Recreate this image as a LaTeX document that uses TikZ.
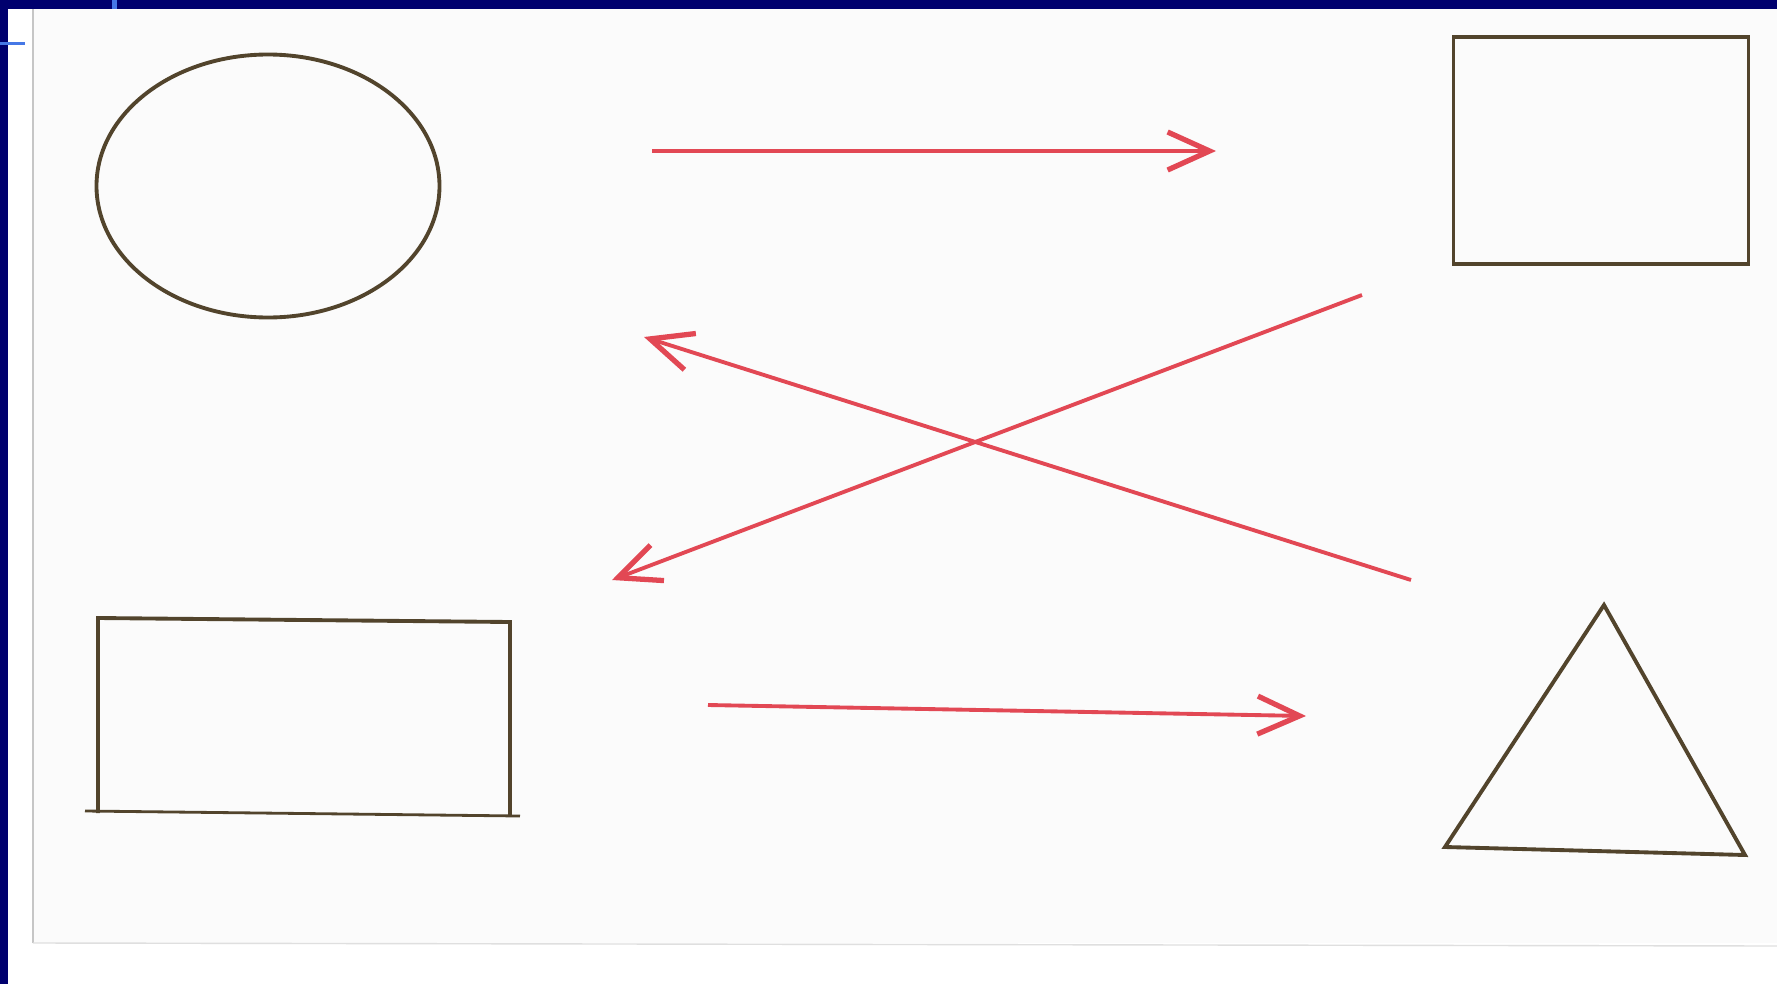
\documentclass[tikz,border=0pt]{standalone}
\usepackage{xcolor}
\usepackage{tikz}
\usetikzlibrary{arrows.meta,positioning,shapes.geometric}

\definecolor{penink}{RGB}{82,68,44}
\definecolor{redink}{RGB}{226,72,84}
\definecolor{slideblue}{RGB}{0,0,110}
\definecolor{lightblue}{RGB}{70,120,230}

\begin{document}
\begin{tikzpicture}[
  x=1cm, y=1cm,
  shapeline/.style={draw=penink, line width=1.1pt},
  arr/.style={draw=redink, line width=1.1pt,
    -{Straight Barb[length=4.2mm, width=3.8mm, line width=1.5pt]}},
]
\useasboundingbox (0,0) rectangle (17.77,-9.84);
% paper and slide frame
\fill[white] (0,0) rectangle (17.77,-9.84);
\fill[gray!3] (0.33,-0.09) rectangle (17.77,-9.43);
\draw[gray!45, line width=0.4pt] (0.33,-0.09) -- (0.33,-9.43);
\draw[gray!25, line width=0.4pt] (0.33,-9.43) -- (17.77,-9.46);
\fill[slideblue] (0,0) rectangle (17.77,-0.09);
\fill[slideblue] (0,0) rectangle (0.08,-9.84);
\fill[lightblue] (1.12,0) rectangle (1.17,-0.09);
\fill[lightblue] (0,-0.42) rectangle (0.25,-0.45);

% shapes
\node[shapeline, ellipse, minimum width=3.43cm, minimum height=2.63cm]
  (circ) at (2.68,-1.86) {};
\node[shapeline, rectangle, minimum width=2.95cm, minimum height=2.27cm]
  (sqr) at (16.01,-1.505) {};
\coordinate (rl) at (0.98,-6.18);
\coordinate (rr) at (5.10,-6.22);
\coordinate (rbl) at (0.98,-8.13);
\coordinate (rbr) at (5.10,-8.15);
\draw[shapeline] (rbl) -- (rl) -- (rr) -- (rbr);
\draw[shapeline, line width=0.8pt] (0.85,-8.11) -- (5.20,-8.16);
\coordinate (ta) at (16.04,-6.05);
\coordinate (tl) at (14.45,-8.47);
\coordinate (tr) at (17.45,-8.55);
\draw[shapeline] (ta) -- (tr) -- (tl) -- cycle;

% arrows
\coordinate (a1s) at (6.52,-1.51);
\coordinate (a1e) at (12.16,-1.51);
\coordinate (a2s) at (7.08,-7.05);
\coordinate (a2e) at (13.06,-7.16);
\coordinate (x1s) at (14.11,-5.80);
\coordinate (x1e) at (6.44,-3.37);
\coordinate (x2s) at (13.62,-2.95);
\coordinate (x2e) at (6.12,-5.80);
\draw[arr] (a1s) -- (a1e);
\draw[arr] (a2s) -- (a2e);
\draw[arr] (x1s) -- (x1e);
\draw[arr] (x2s) -- (x2e);
\end{tikzpicture}
\end{document}
